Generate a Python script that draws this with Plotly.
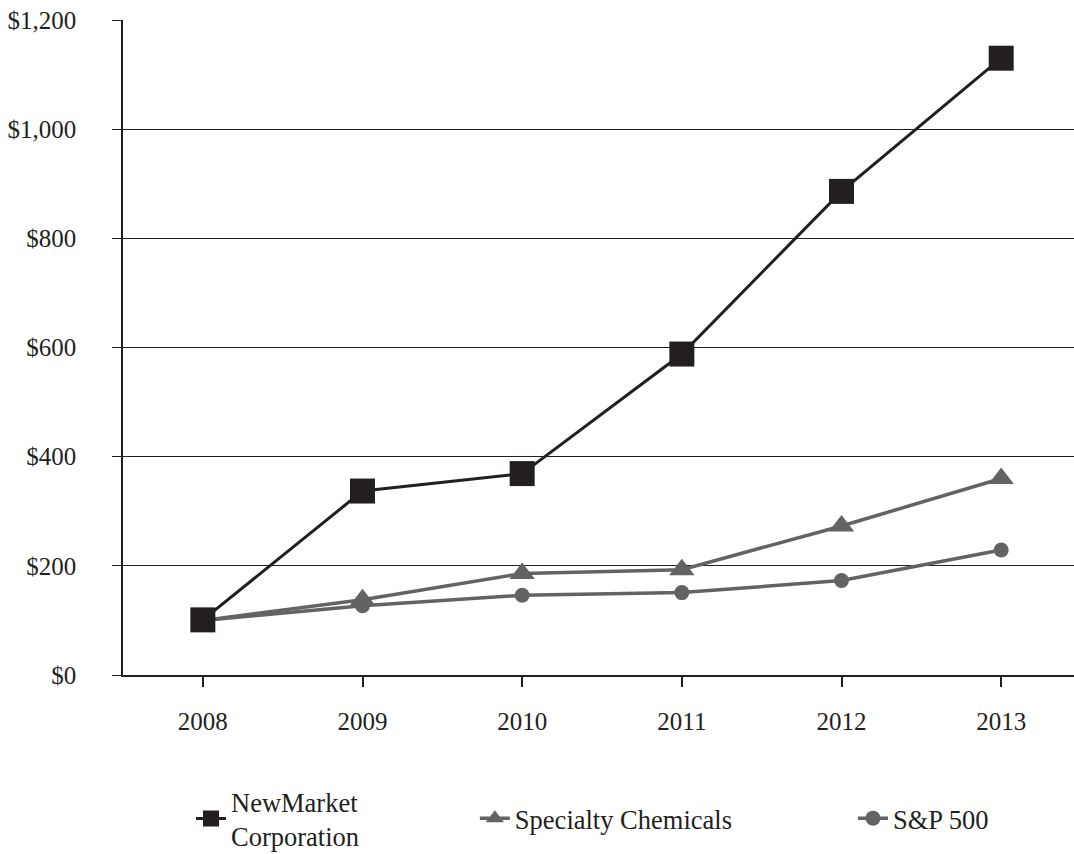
import plotly.graph_objects as go

years = [2008, 2009, 2010, 2011, 2012, 2013]
newmarket = [101, 337, 369, 588, 886, 1130]
specialty = [100, 138, 186, 193, 273, 360]
sp500 = [100, 127, 146, 151, 173, 229]

y_ticks = [0, 200, 400, 600, 800, 1000, 1200]
y_labels = ["$0", "$200", "$400", "$600", "$800", "$1,000", "$1,200"]

DARK = "#231f20"
GRAY = "#636363"
FONT = "Liberation Serif"

fig = go.Figure()
fig.add_trace(go.Scatter(x=years, y=sp500, name="S&P 500", mode="lines+markers",
                         line=dict(color=GRAY, width=3.5),
                         marker=dict(symbol="circle", size=15, color=GRAY),
                         legend="legend3"))
fig.add_trace(go.Scatter(x=years, y=specialty, name="Specialty Chemicals", mode="lines+markers",
                         line=dict(color=GRAY, width=3.5),
                         marker=dict(symbol="triangle-up", size=22, color=GRAY),
                         legend="legend2"))
fig.add_trace(go.Scatter(x=years, y=newmarket, name="NewMarket<br>Corporation", mode="lines+markers",
                         line=dict(color=DARK, width=3),
                         marker=dict(symbol="square", size=25, color=DARK),
                         legend="legend"))

leg_common = dict(font=dict(family=FONT, size=26.5, color=DARK), bgcolor="rgba(0,0,0,0)",
                  yanchor="middle", xanchor="left", orientation="h")
LEG_Y = -0.219

fig.update_layout(
    width=1074, height=854,
    margin=dict(l=123, r=0, t=20, b=179, autoexpand=False),
    paper_bgcolor="white", plot_bgcolor="white",
    font=dict(family=FONT, size=25, color=DARK),
    showlegend=True,
    legend=dict(x=0.0715, y=LEG_Y, **leg_common),
    legend2=dict(x=0.370, y=LEG_Y, **leg_common),
    legend3=dict(x=0.7676, y=LEG_Y, **leg_common),
    xaxis=dict(range=[2007.5, 2013.456], tickvals=years, ticktext=[str(y) for y in years],
               showgrid=False, zeroline=False, showline=True, linecolor=DARK, linewidth=1.5,
               ticks="outside", ticklen=10, tickwidth=1.5, tickcolor=DARK,
               ticklabelstandoff=13, tickfont=dict(family=FONT, size=25, color=DARK)),
    yaxis=dict(range=[0, 1200], tickvals=y_ticks, ticktext=y_labels,
               showgrid=True, gridcolor=DARK, gridwidth=1.2, zeroline=False,
               showline=True, linecolor=DARK, linewidth=1.5,
               ticks="outside", ticklen=9, tickwidth=1.2, tickcolor=DARK,
               ticklabelstandoff=31, tickfont=dict(family=FONT, size=25, color=DARK)),
)

fig.write_html("out.html", config={"displayModeBar": False},
               post_script="document.body.style.margin='0';")
